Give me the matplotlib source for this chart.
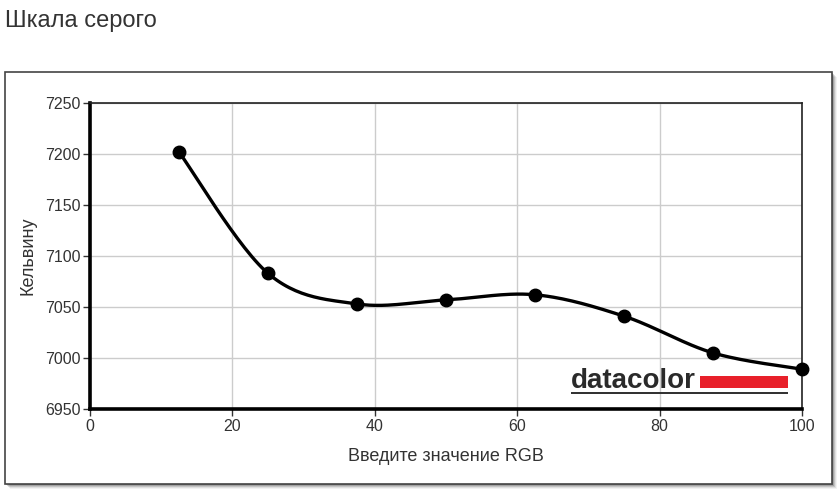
import numpy as np
import matplotlib
matplotlib.use("Agg")
import matplotlib.pyplot as plt
from matplotlib.patches import Rectangle

plt.rcParams['font.family'] = ['Liberation Sans', 'DejaVu Sans']

# Data
rgb_values = [12.5, 25, 37.5, 50, 62.5, 75, 87.5, 100]
kelvin = [7202, 7083, 7053, 7057, 7062, 7041, 7005, 6989]
x_ticks = [0, 20, 40, 60, 80, 100]
y_ticks = [6950, 7000, 7050, 7100, 7150, 7200, 7250]
title = "Шкала серого"
xlabel = "Введите значение RGB"
ylabel = "Кельвину"
logo_text = "datacolor"


def smooth_curve(xs, ys, n=30, tension=0.5):
    """Cardinal (Catmull-Rom) spline rendering through the data points."""
    xs = np.asarray(xs, float)
    ys = np.asarray(ys, float)
    m = len(xs)
    tx = np.zeros(m)
    ty = np.zeros(m)
    for i in range(m):
        a = max(i - 1, 0)
        b = min(i + 1, m - 1)
        tx[i] = tension * (xs[b] - xs[a])
        ty[i] = tension * (ys[b] - ys[a])
    ox, oy = [], []
    t = np.linspace(0, 1, n)
    h00 = 2 * t**3 - 3 * t**2 + 1
    h10 = t**3 - 2 * t**2 + t
    h01 = -2 * t**3 + 3 * t**2
    h11 = t**3 - t**2
    for i in range(m - 1):
        ox.append(h00 * xs[i] + h10 * tx[i] + h01 * xs[i + 1] + h11 * tx[i + 1])
        oy.append(h00 * ys[i] + h10 * ty[i] + h01 * ys[i + 1] + h11 * ty[i + 1])
    return np.concatenate(ox), np.concatenate(oy)


W, H = 840, 496
fig = plt.figure(figsize=(W / 100, H / 100), dpi=100)
fig.patch.set_facecolor('white')

# outer box with soft shadow
for k, a in zip(range(5, 0, -1), [0.05, 0.08, 0.12, 0.16, 0.2]):
    fig.add_artist(Rectangle(((5 + k) / W, 1 - (484 + k) / H), 827 / W, 412 / H,
                             transform=fig.transFigure, facecolor=(0, 0, 0, a),
                             edgecolor='none', zorder=0))
fig.add_artist(Rectangle((5 / W, 1 - 484 / H), 827 / W, 412 / H,
                         transform=fig.transFigure, facecolor='white',
                         edgecolor='#444444', linewidth=1.2, zorder=0.5))

fig.text(5 / W, 1 - 21 / H, title, fontsize=17, color='#333333',
         ha='left', va='center')

ax = fig.add_axes([90 / W, 1 - 409 / H, 712 / W, 306 / H])
ax.set_zorder(2)
ax.set_xlim(0, 100)
ax.set_ylim(6950, 7250)
ax.set_xticks(x_ticks)
ax.set_yticks(y_ticks)
ax.grid(True, color='#cccccc', linewidth=1.0)
ax.set_axisbelow(True)

for s in ['left', 'bottom']:
    ax.spines[s].set_linewidth(2.6)
    ax.spines[s].set_color('black')
for s in ['top', 'right']:
    ax.spines[s].set_linewidth(1.2)
    ax.spines[s].set_color('#222222')

ax.tick_params(axis='both', direction='out', length=5, width=1,
               color='#333333', labelsize=11.5, labelcolor='#333333', pad=2)

sx, sy = smooth_curve(rgb_values, kelvin)
ax.plot(sx, sy, color='black', linewidth=2.4, zorder=3, clip_on=False)
ax.plot(rgb_values, kelvin, 'o', color='black', markersize=9, zorder=4,
        clip_on=False)

ax.set_xlabel(xlabel, fontsize=13, color='#333333', labelpad=10)
ax.set_ylabel(ylabel, fontsize=13, color='#333333', labelpad=6)

# logo
fig.text(571 / W, 1 - 388 / H, logo_text, fontsize=20, fontweight='bold',
         color='#2a2a2a', ha='left', va='baseline', zorder=5)
fig.add_artist(Rectangle((700 / W, 1 - 388 / H), 88 / W, 12 / H,
                         transform=fig.transFigure, facecolor='#e8202a',
                         edgecolor='none', zorder=5))
fig.add_artist(Rectangle((571 / W, 1 - 394 / H), 217 / W, 2 / H,
                         transform=fig.transFigure, facecolor='#333333',
                         edgecolor='none', zorder=5))

fig.savefig('out.png', dpi=100)
